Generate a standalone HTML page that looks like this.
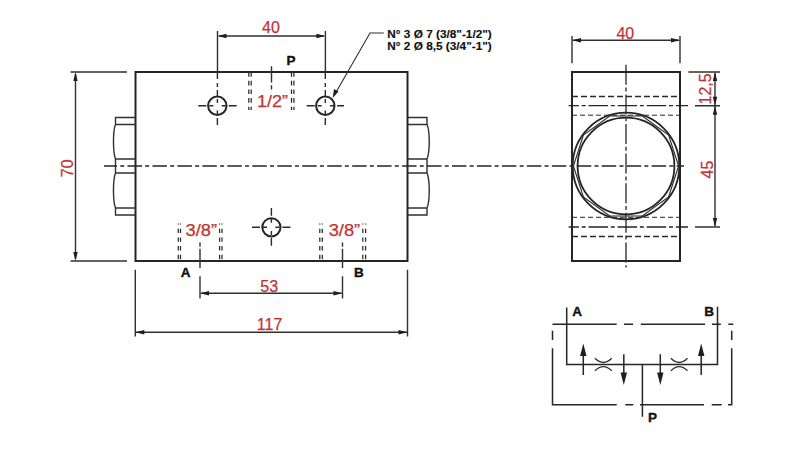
<!DOCTYPE html>
<html><head><meta charset="utf-8">
<style>
html,body{margin:0;padding:0;background:#fff;width:800px;height:450px;overflow:hidden}
svg{display:block}
.o{fill:none;stroke:#252525;stroke-width:2}
.t{fill:none;stroke:#303030;stroke-width:1.4}
.cl{fill:none;stroke:#252525;stroke-width:1.3;stroke-dasharray:15.5 2.5 4.5 2.5}
.hd{fill:none;stroke:#2a2a2a;stroke-width:1.2;stroke-dasharray:5 3}
.dim{font-family:"Liberation Sans",sans-serif;font-size:16px;fill:#c03434;stroke:#c03434;stroke-width:0.25}
.lb{font-family:"Liberation Sans",sans-serif;font-size:13.5px;font-weight:bold;fill:#111;stroke:#111;stroke-width:0.35}
.ar{fill:#1e1e1e;stroke:none}
</style></head>
<body>
<svg width="800" height="450" viewBox="0 0 800 450">
<rect width="800" height="450" fill="#fff"/>
<!-- LEFT VIEW -->
<rect class="o" x="135.5" y="72" width="272" height="189"/>
<!-- left nut -->
<path class="t" d="M135.5 117.5H115.5V124.5H135.5 M115.5 124.5C112.8 131 112.8 152 115.5 159 M135.5 159H115.5V173H135.5 M115.5 173C112.8 180 112.8 201 115.5 208 M135.5 208H115.5V215H135.5"/>
<!-- right nut -->
<path class="t" d="M407.5 117.5H427V124.5H407.5 M427 124.5C430 131 430 152 427 159 M407.5 159H427V173H407.5 M427 173C430 180 430 201 427 208 M407.5 208H427V215H407.5"/>
<!-- main centerline -->
<line class="cl" style="stroke-dasharray:14.5 3.2 4 3.26;stroke-dashoffset:1.46" x1="104" y1="166" x2="684" y2="166"/>
<!-- 70 dim -->
<path class="t" d="M70.5 72H127 M70.5 261H127 M75.5 74V259"/>
<path class="ar" d="M75.5 72L73.30 81.00L77.70 81.00Z M75.5 261L73.30 252.00L77.70 252.00Z"/>
<text class="dim" transform="translate(72.5,168.3) rotate(-90)" text-anchor="middle">70</text>
<!-- top 40 dim -->
<path class="t" d="M217.5 31V72 M325.4 31V72 M219 36H324"/>
<path class="ar" d="M217.5 36L226.50 33.80L226.50 38.20Z M325.4 36L316.40 33.80L316.40 38.20Z"/>
<text class="dim" x="271" y="33.2" text-anchor="middle">40</text>
<!-- holes -->
<circle class="o" cx="217.3" cy="105.7" r="9.2"/>
<circle class="o" cx="325.3" cy="105.7" r="9.2"/>
<circle class="o" cx="271.4" cy="227.3" r="9.1"/>
<path class="hd" style="stroke-width:1.4;stroke-dasharray:7 4 4 3 6 3 4 7.5 4.5 3 8" d="M217.4 72V125 M325.3 72V125"/>
<path class="hd" style="stroke-width:1.4;stroke-dasharray:8 3 4 8.4 4 3 8" d="M198.3 105.7H236.7 M306.7 105.7H344 M252 227.3H291.3"/>
<path class="hd" style="stroke-width:1.4;stroke-dasharray:7.7 3 4 8.3 4 3 7.7" d="M271.4 208V245.7"/>
<!-- P port 1/2 -->
<path class="hd" style="stroke-width:1.25;stroke:#2a2a2a;stroke-dasharray:4.7 4" d="M248.8 72V110 M251.2 72V110 M291.5 72V110 M293.9 72V110"/>
<path class="t" d="M271.5 66.2V82.5 M271.5 85.3V89.6"/>
<text class="dim" x="257" y="106.6" textLength="31" lengthAdjust="spacingAndGlyphs">1/2”</text>
<text class="lb" x="286.6" y="65.3">P</text>
<!-- leader -->
<path class="t" style="stroke-width:1.1" d="M383.8 33H370L335 94"/>
<path class="ar" d="M332.7 98L334.00 89.00L338.50 91.50Z"/>
<text class="lb" style="font-size:11.5px;stroke-width:0.15" x="387.3" y="37.8" textLength="104.5" lengthAdjust="spacingAndGlyphs">N° 3 Ø 7 (3/8"-1/2")</text>
<text class="lb" style="font-size:11.5px;stroke-width:0.15" x="387.3" y="50.4" textLength="104.5" lengthAdjust="spacingAndGlyphs">N° 2 Ø 8,5 (3/4"-1")</text>
<!-- A/B ports -->
<path class="hd" style="stroke-width:1.25;stroke:#2a2a2a;stroke-dasharray:4.4 4.3;stroke-dashoffset:3.6" d="M178.3 223.6V261 M180.5 223.6V261 M219.6 223.6V261 M222 223.6V261 M319.8 223.6V261 M322.3 223.6V261 M362.8 223.6V261 M365.6 223.6V261"/>
<path class="t" d="M200 242.5V246.8 M200 248.7V268 M342.5 242.5V246.8 M342.5 248.7V268"/>
<text class="dim" x="185.6" y="236" textLength="31.5" lengthAdjust="spacingAndGlyphs">3/8”</text>
<text class="dim" x="328.7" y="236" textLength="31.5" lengthAdjust="spacingAndGlyphs">3/8”</text>
<text class="lb" x="180.8" y="276.5">A</text>
<text class="lb" x="354" y="276.5">B</text>
<!-- 53 dim -->
<path class="t" d="M200 276.3V298.5 M342.5 276.3V298.5 M201 293.3H341.5"/>
<path class="ar" d="M200 293.3L209.00 291.10L209.00 295.50Z M342.5 293.3L333.50 291.10L333.50 295.50Z"/>
<text class="dim" x="269.2" y="291.5" text-anchor="middle">53</text>
<!-- 117 dim -->
<path class="t" d="M135.3 269.8V336.4 M407.5 269.8V336.4 M136 332.3H407"/>
<path class="ar" d="M135.3 332.3L144.30 330.10L144.30 334.50Z M407.5 332.3L398.50 330.10L398.50 334.50Z"/>
<text class="dim" x="269.6" y="330" text-anchor="middle">117</text>

<!-- RIGHT VIEW -->
<rect class="o" x="572" y="72" width="108" height="189"/>
<path class="t" d="M572 36V63.3 M680 36V63.3 M573 40.3H679"/>
<path class="ar" d="M572 40.3L581.00 38.10L581.00 42.50Z M680 40.3L671.00 38.10L671.00 42.50Z"/>
<text class="dim" x="625.3" y="38.8" text-anchor="middle">40</text>
<path class="hd" style="stroke-width:1.4;stroke-dasharray:6 3" d="M572 96.5H680 M572 236.5H680"/>
<path class="hd" style="stroke-width:1;stroke-dasharray:5 3" d="M572 115.2H680 M572 217.3H680"/>
<path class="cl" style="stroke-dasharray:19.5 2.8 4 2.8;stroke-dashoffset:9.2" d="M568.6 105.7H688 M568.6 227H688"/>
<path class="cl" style="stroke-dasharray:20 2.8 4 2.8" d="M626 64.8V267.6"/>
<path class="t" d="M695 105.7H720 M695 227H720 M688.4 72H720 M715 73V226"/>
<path class="ar" d="M715 72L712.80 81.00L717.20 81.00Z M715 105.7L712.80 96.70L717.20 96.70Z M715 105.7L712.80 114.70L717.20 114.70Z M715 227L712.80 218.00L717.20 218.00Z"/>
<text class="dim" transform="translate(711,88.9) rotate(-90)" text-anchor="middle">12,5</text>
<text class="dim" transform="translate(713,169.5) rotate(-90)" text-anchor="middle">45</text>
<circle class="o" style="stroke-width:1.8" cx="626" cy="166" r="53.3"/>
<circle class="o" style="stroke-width:1.8" cx="626" cy="166" r="48.4"/>
<polygon class="t" style="stroke:#2a2a2a;stroke-width:1.1" points="642.3,116.0 668.6,135.1 678.6,166.0 668.6,196.9 642.3,216.0 609.7,216.0 583.4,196.9 573.4,166.0 583.4,135.1 609.7,116.0"/>

<!-- HYDRAULIC SYMBOL -->
<path class="o" style="stroke-width:1.5" d="M566.7 307.5V364.5H717.5V306.7 M642.4 364.5V416.7"/>
<path class="o" style="stroke-width:1.5" d="M552.5 324.2H616.7 M624 324.2H633 M640.8 324.2H705 M712 324.2H720.8 M728.3 324.2H733.3 M552.5 330.8V340 M552.5 348.3V404.7H616.7 M625.3 404.7H633.3 M640 404.7H704 M711.7 404.7H721.7 M728 404.7H731.7V348.3 M731.7 340V330.8"/>
<path class="o" style="stroke-width:1.5" d="M583.3 352V375 M701.2 352V375 M623.8 354.2V376 M660.3 354.2V376"/>
<path class="ar" d="M583.3 343.6L580.1 356L586.5 356Z M701.2 343.6L698 356L704.4 356Z M623.8 385L620.6 372.5L627 372.5Z M660.3 385L657.1 372.5L663.5 372.5Z"/>
<path class="t" style="stroke-width:1.3" d="M595 358.3Q603.3 366.7 611.7 358.3 M595 370.8Q603.3 362.5 611.7 370.8 M670.9 358.3Q679.2 366.7 687.5 358.3 M670.9 370.8Q679.2 362.5 687.5 370.8"/>
<text class="lb" x="572.2" y="316.4">A</text>
<text class="lb" x="704.2" y="316">B</text>
<text class="lb" x="648" y="421.6">P</text>
</svg>
</body></html>
